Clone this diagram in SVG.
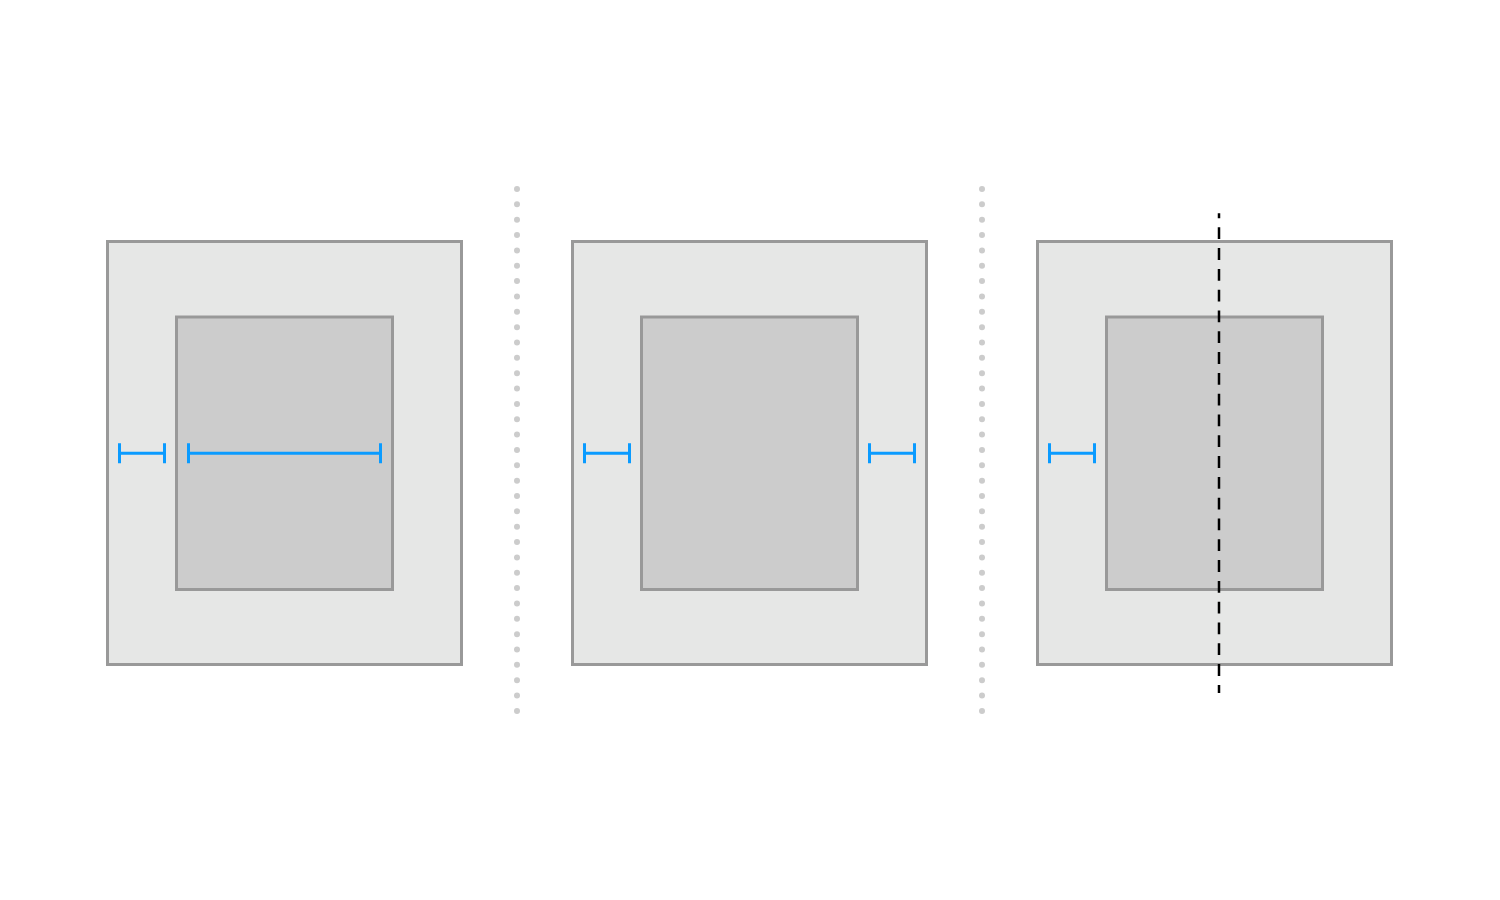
<svg xmlns="http://www.w3.org/2000/svg" width="1500" height="900" viewBox="0 0 1500 900">
<style>
.outer{fill:#e6e7e6;stroke:#999999;stroke-width:3}
.inner{fill:#cccccc;stroke:#999999;stroke-width:3}
.dim{stroke:#0a9bff;stroke-width:3;fill:none}
.sep{stroke:#cccccc;stroke-width:6;stroke-linecap:round;stroke-dasharray:0 15.35;fill:none}
.axis{stroke:#000000;stroke-width:2.5;stroke-dasharray:11.8 9;stroke-dashoffset:6.8;fill:none}
</style>
<rect width="1500" height="900" fill="#ffffff"/>
<g id="panel1">
<rect class="outer" x="107.5" y="241.5" width="354" height="423"/>
<rect class="inner" x="176.5" y="317" width="216" height="272.5"/>
</g>
<g id="panel2">
<rect class="outer" x="572.5" y="241.5" width="354" height="423"/>
<rect class="inner" x="641.5" y="317" width="216" height="272.5"/>
</g>
<g id="panel3">
<rect class="outer" x="1037.5" y="241.5" width="354" height="423"/>
<rect class="inner" x="1106.5" y="317" width="216" height="272.5"/>
</g>
<g id="separators">
<line class="sep" x1="517" y1="189" x2="517" y2="712"/>
<line class="sep" x1="982" y1="189" x2="982" y2="712"/>
</g>
<g id="connectors">
<path class="dim" d="M119.5 453.3H164.5M119.5 443.3V463.3M164.5 443.3V463.3"/>
<path class="dim" d="M188.5 453.3H380.5M188.5 443.3V463.3M380.5 443.3V463.3"/>
<path class="dim" d="M584.5 453.3H629.5M584.5 443.3V463.3M629.5 443.3V463.3"/>
<path class="dim" d="M869.5 453.3H914.5M869.5 443.3V463.3M914.5 443.3V463.3"/>
<path class="dim" d="M1049.5 453.3H1094.5M1049.5 443.3V463.3M1094.5 443.3V463.3"/>
<line class="axis" x1="1219" y1="213.3" x2="1219" y2="693"/>
</g>
</svg>
